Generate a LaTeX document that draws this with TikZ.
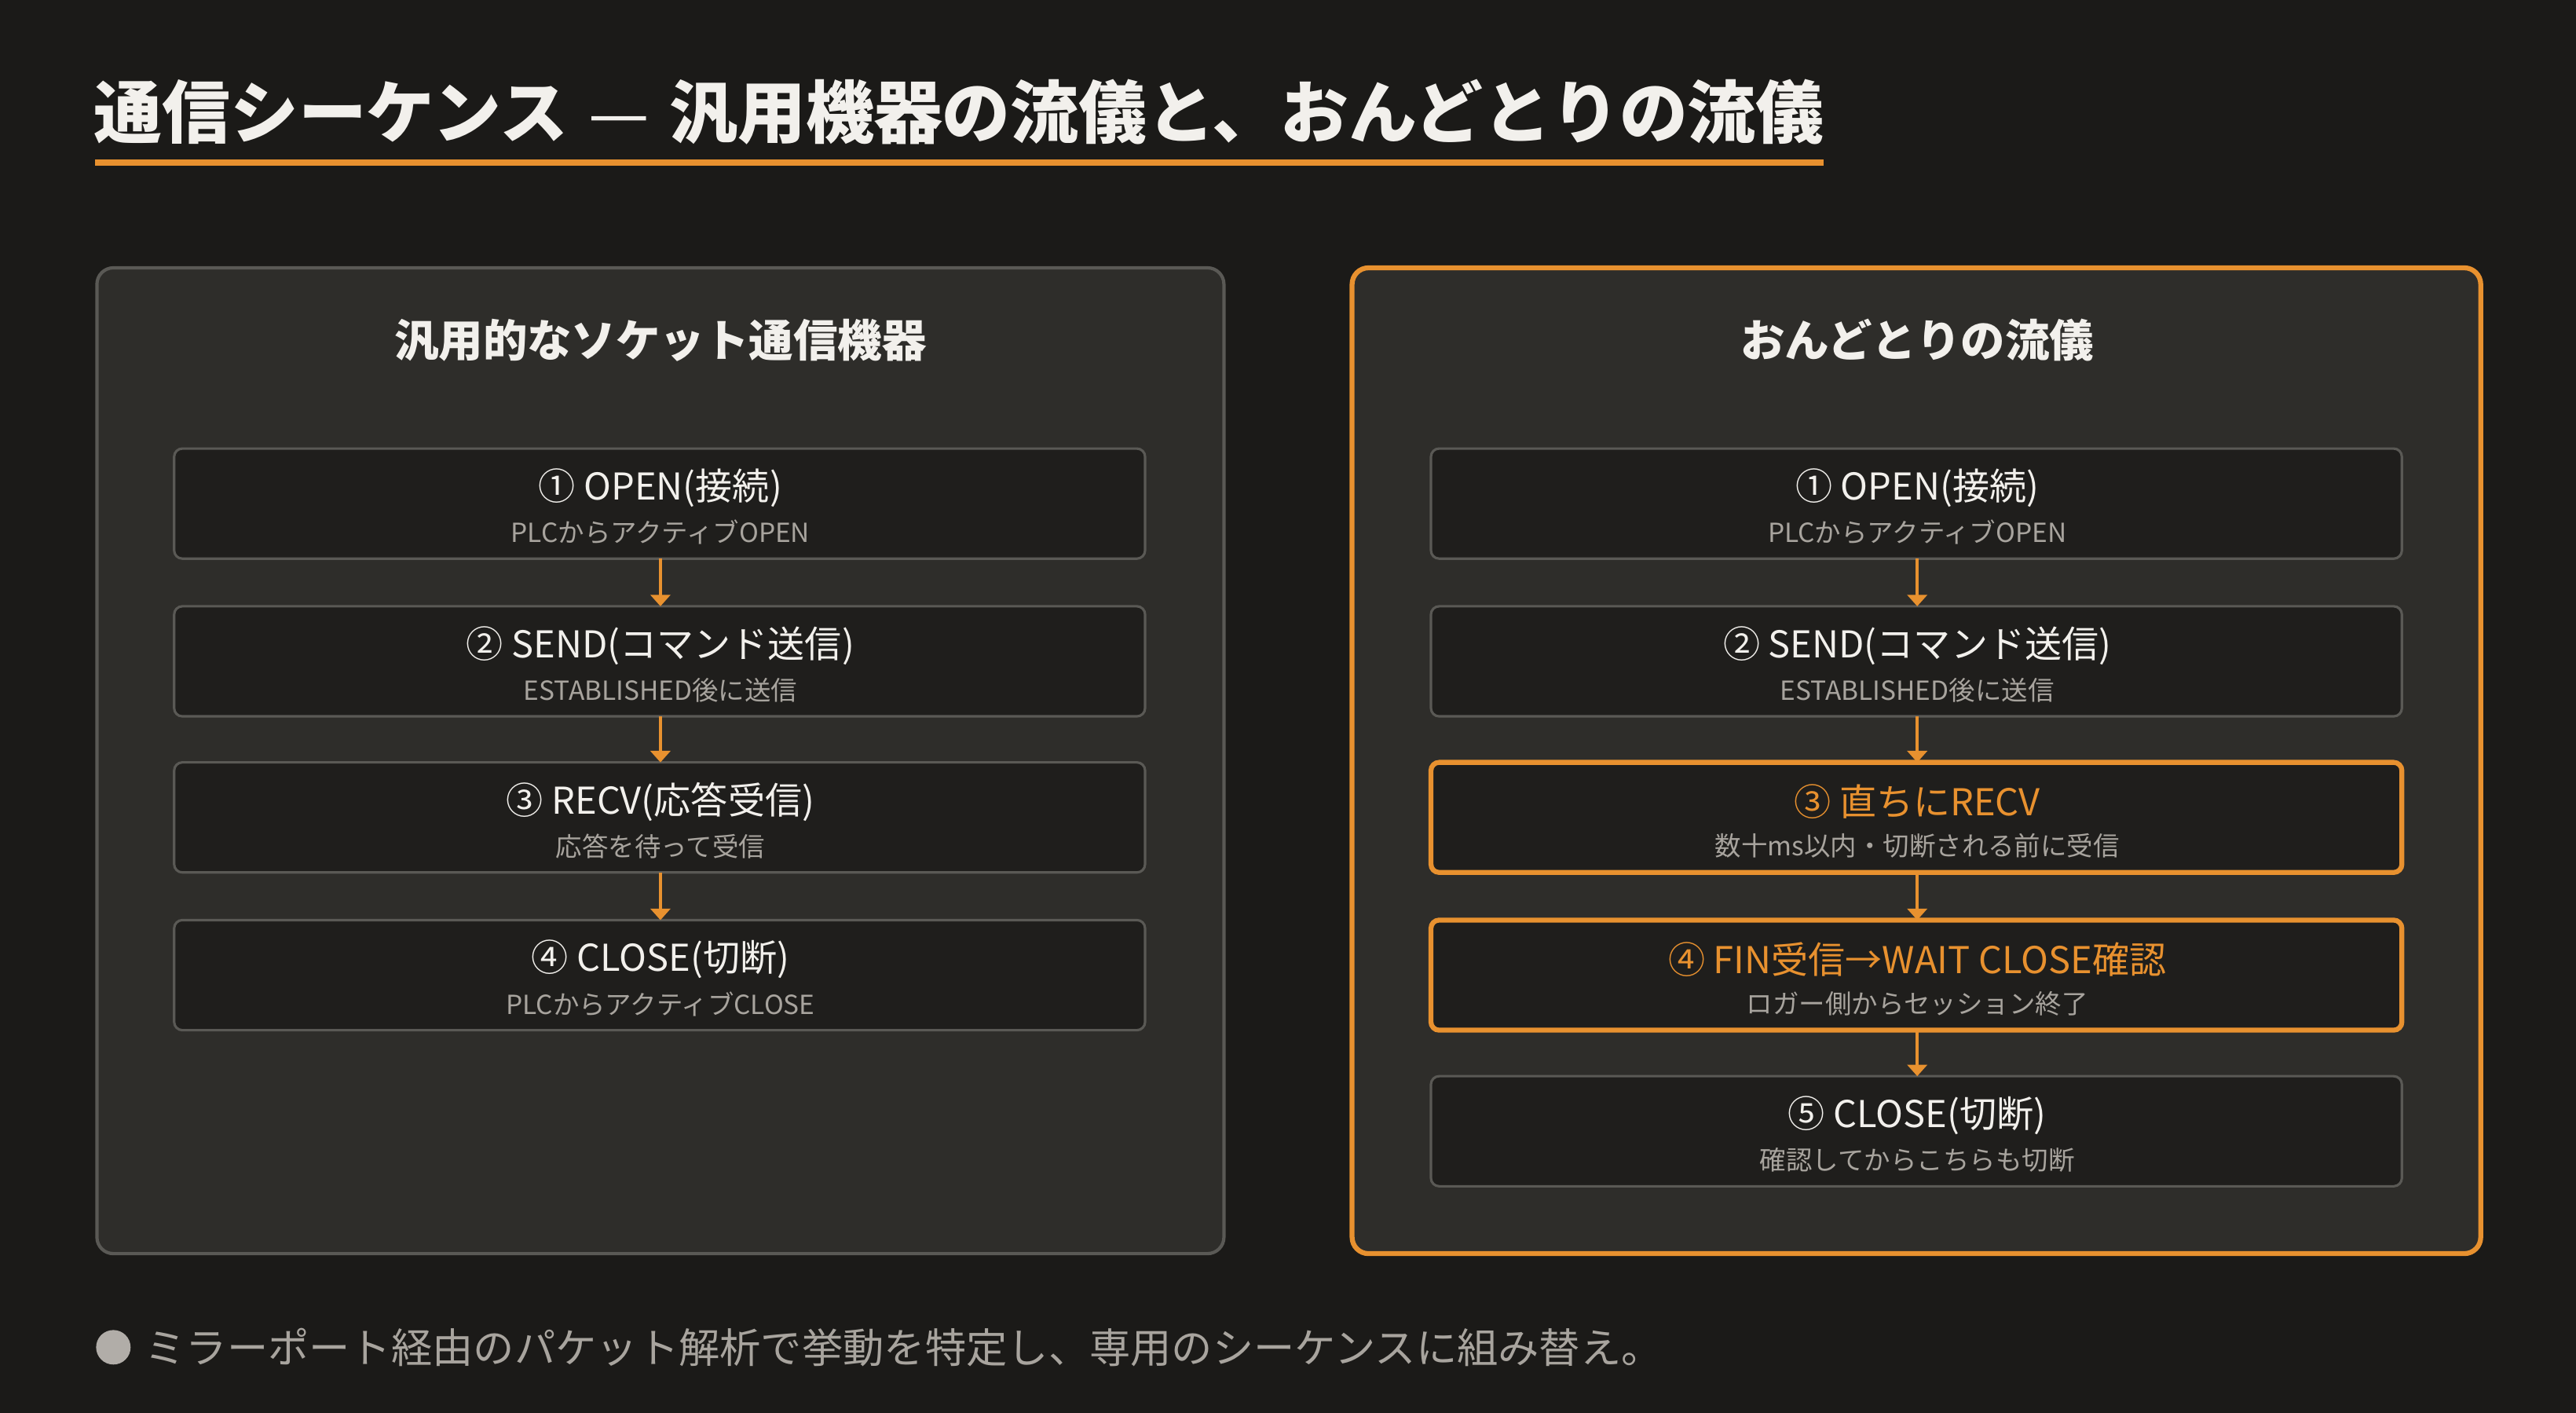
\documentclass[tikz,border=0pt]{standalone}
\usepackage{fontspec}
\setmainfont{Noto Sans CJK JP}
\usetikzlibrary{arrows.meta}
\definecolor{bg}{HTML}{1B1A18}
\definecolor{panel}{HTML}{2E2D2A}
\definecolor{boxf}{HTML}{1F1E1C}
\definecolor{edge}{HTML}{5A5955}
\definecolor{org}{HTML}{E8912F}
\definecolor{txt}{HTML}{F2F0EC}
\definecolor{sub}{HTML}{A8A49E}
\begin{document}
\begin{tikzpicture}[x=1pt,y=-1pt,
 panel/.style={rounded corners=10pt,fill=panel,draw=edge,line width=2pt},
 sbox/.style={rounded corners=5pt,fill=boxf,draw=edge,line width=1.5pt},
 hbox/.style={rounded corners=5pt,fill=boxf,draw=org,line width=3pt},
 ttl/.style={font=\fontsize{22.5}{26}\selectfont,text=txt},
 sttl/.style={font=\fontsize{16}{19}\selectfont,text=sub},
 arr/.style={draw=org,line width=2pt,-{Triangle[length=7pt,width=12pt]}}]
\useasboundingbox[fill=bg] (0,0) rectangle (1568,860);
\node[anchor=base west,text=txt,font=\bfseries\fontsize{41.5}{46}\selectfont,inner sep=0] (title) at (57,84) {通信シーケンス\hspace{0.3em}{\mdseries —}\hspace{0.3em}汎用機器の流儀と、おんどとりの流儀};
\fill[org] (58,97) rectangle (1110,101);
\draw[panel] (59,163) rectangle (745,763);
\draw[panel,draw=org,line width=3pt] (823,163) rectangle (1510,763);
\node[text=txt,font=\bfseries\fontsize{27}{31}\selectfont] (hl) at (402,207) {汎用的なソケット通信機器};
\node[text=txt,font=\bfseries\fontsize{27}{31}\selectfont] (hr) at (1167,207) {おんどとりの流儀};
% left
\foreach \n/\t/\b/\a/\s in {l1/273/340/① OPEN(接続)/PLCからアクティブOPEN,
 l2/369/436/② SEND(コマンド送信)/ESTABLISHED後に送信,
 l3/464/531/③ RECV(応答受信)/応答を待って受信,
 l4/560/627/④ CLOSE(切断)/PLCからアクティブCLOSE}{
 \draw[sbox] (106,\t) rectangle (697,\b);
 \node[ttl] (\n t) at (402,\t+24) {\a};
 \node[sttl] (\n s) at (402,\t+51) {\s};
 \coordinate (\n top) at (402,\t); \coordinate (\n bot) at (402,\b);}
% right
\foreach \n/\t/\b/\a/\s/\st/\tc in {r1/273/340/① OPEN(接続)/PLCからアクティブOPEN/sbox/txt,
 r2/369/436/② SEND(コマンド送信)/ESTABLISHED後に送信/sbox/txt,
 r3/464/531/③ 直ちにRECV/数十ms以内・切断される前に受信/hbox/org,
 r4/560/627/④ FIN受信→WAIT CLOSE確認/ロガー側からセッション終了/hbox/org,
 r5/655/722/⑤ CLOSE(切断)/確認してからこちらも切断/sbox/txt}{
 \draw[\st] (871,\t) rectangle (1462,\b);
 \node[ttl,text=\tc] (\n t) at (1167,\t+24) {\a};
 \node[sttl] (\n s) at (1167,\t+51) {\s};
 \coordinate (\n top) at (1167,\t); \coordinate (\n bot) at (1167,\b);}
\draw[arr] (l1bot) -- (l2top); \draw[arr] (l2bot) -- (l3top); \draw[arr] (l3bot) -- (l4top);
\draw[arr] (r1bot) -- (r2top); \draw[arr] (r2bot) -- (r3top); \draw[arr] (r3bot) -- (r4top); \draw[arr] (r4bot) -- (r5top);
\fill[sub!90!white] (69,820) circle (10.5) coordinate (dot);
\node[anchor=west,text=sub,font=\fontsize{25}{30}\selectfont,inner sep=0] (foot) at (88,820) {ミラーポート経由のパケット解析で挙動を特定し、専用のシーケンスに組み替え。};
\end{tikzpicture}
\end{document}
